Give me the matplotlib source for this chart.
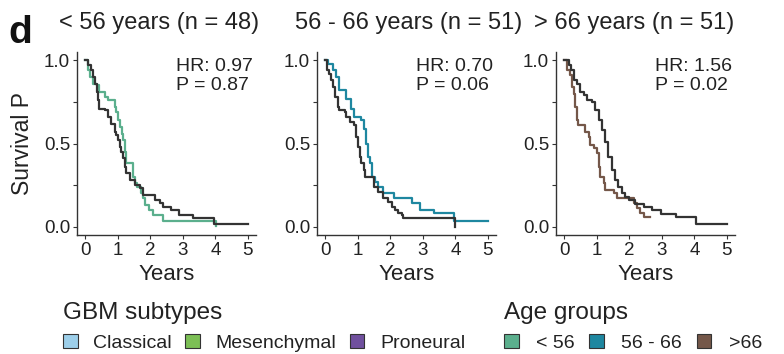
import matplotlib
matplotlib.use("Agg")
import matplotlib.pyplot as plt
from matplotlib.patches import Patch

plt.rcParams['font.family'] = ['Liberation Sans', 'DejaVu Sans']

# ---------------- data ----------------
panel_titles = ["< 56 years (n = 48)", "56 - 66 years (n = 51)", "> 66 years (n = 51)"]
hr_texts = ["HR: 0.97\nP = 0.87", "HR: 0.70\nP = 0.06", "HR: 1.56\nP = 0.02"]
x_ticks = [0, 1, 2, 3, 4, 5]
y_ticks = [0.0, 0.5, 1.0]
y_tick_labels = ["0.0", "0.5", "1.0"]

# panel 1 (< 56)
p1_group_t = [0, 0.08, 0.15, 0.24, 0.35, 0.44, 0.6, 0.7, 0.92, 0.96, 1.0, 1.06, 1.12, 1.16, 1.22, 1.27,
              1.48, 1.52, 1.6, 1.73, 1.78, 1.84, 1.95, 2.09, 2.4, 4.03]
p1_group_s = [1.0, 0.94, 0.9, 0.86, 0.85, 0.81, 0.78, 0.76, 0.72, 0.69, 0.64, 0.6, 0.56, 0.52, 0.45, 0.38,
              0.3, 0.26, 0.24, 0.2, 0.17, 0.13, 0.10, 0.07, 0.034, 0.005]
p1_rest_t = [0, 0.08, 0.19, 0.25, 0.31, 0.35, 0.39, 0.44, 0.6, 0.7, 0.8, 0.91, 0.96, 1.01, 1.06, 1.11, 1.16,
             1.22, 1.27, 1.37, 1.53, 1.68, 1.78, 2.14, 2.3, 2.4, 2.65, 2.87, 3.3, 3.97, 5.0]
p1_rest_s = [1.0, 0.97, 0.94, 0.9, 0.86, 0.81, 0.76, 0.71, 0.70, 0.66, 0.62, 0.57, 0.55, 0.52, 0.48, 0.45, 0.41,
             0.36, 0.32, 0.28, 0.25, 0.23, 0.19, 0.16, 0.14, 0.12, 0.10, 0.07, 0.05, 0.016, 0.016]

# panel 2 (56 - 66)
p2_group_t = [0, 0.08, 0.24, 0.34, 0.44, 0.65, 0.8, 0.89, 1.11, 1.2, 1.27, 1.32, 1.37, 1.44, 1.53, 1.63,
              1.78, 2.11, 2.68, 2.92, 3.36, 3.97, 5.0]
p2_group_s = [1.0, 0.98, 0.94, 0.9, 0.82, 0.77, 0.71, 0.66, 0.64, 0.59, 0.5, 0.42, 0.38, 0.30, 0.27, 0.24,
              0.20, 0.175, 0.145, 0.10, 0.08, 0.035, 0.035]
p2_rest_t = [0, 0.06, 0.12, 0.19, 0.25, 0.31, 0.39, 0.44, 0.6, 0.65, 0.75, 0.89, 0.96, 1.01, 1.06, 1.11,
             1.2, 1.24, 1.5, 1.63, 1.78, 1.94, 2.04, 2.14, 2.24, 2.35, 2.4, 4.0]
p2_rest_s = [1.0, 0.94, 0.92, 0.88, 0.84, 0.78, 0.72, 0.70, 0.69, 0.66, 0.63, 0.61, 0.54, 0.48, 0.42, 0.38,
             0.34, 0.30, 0.24, 0.21, 0.17, 0.15, 0.12, 0.10, 0.085, 0.07, 0.05, 0.0]

# panel 3 (> 66)
p3_group_t = [0, 0.08, 0.18, 0.24, 0.29, 0.34, 0.39, 0.44, 0.63, 0.75, 0.8, 0.93, 1.0, 1.06, 1.1, 1.21,
              1.26, 1.52, 1.63, 2.14, 2.24, 2.34, 2.45, 2.63]
p3_group_s = [1.0, 0.94, 0.91, 0.84, 0.80, 0.72, 0.64, 0.61, 0.57, 0.54, 0.49, 0.47, 0.44, 0.36, 0.30, 0.26,
              0.22, 0.20, 0.17, 0.14, 0.11, 0.08, 0.056, 0.056]
p3_rest_t = [0, 0.15, 0.2, 0.29, 0.39, 0.49, 0.6, 0.7, 0.85, 0.95, 1.06, 1.16, 1.26, 1.36, 1.47, 1.57,
             1.67, 1.77, 1.88, 2.0, 2.19, 2.45, 2.71, 2.97, 3.43, 4.04, 5.0]
p3_rest_s = [1.0, 0.97, 0.94, 0.88, 0.86, 0.81, 0.79, 0.76, 0.75, 0.70, 0.64, 0.58, 0.51, 0.42, 0.34, 0.28,
             0.24, 0.20, 0.18, 0.16, 0.134, 0.12, 0.10, 0.074, 0.06, 0.016, 0.016]

subtype_labels = ["Classical", "Mesenchymal", "Proneural"]
subtype_colors = ["#9DCFEA", "#7CBF55", "#70509E"]
age_labels = ["< 56", "56 - 66", ">66"]
age_colors = ["#5BAF8D", "#1E87A0", "#745749"]
rest_color = "#333333"

panels = [
    (p1_group_t, p1_group_s, p1_rest_t, p1_rest_s),
    (p2_group_t, p2_group_s, p2_rest_t, p2_rest_s),
    (p3_group_t, p3_group_s, p3_rest_t, p3_rest_s),
]

# ---------------- figure ----------------
W, H = 784, 354
fig = plt.figure(figsize=(W / 100, H / 100), dpi=100)
txt = "#222222"
lefts = [77, 317, 556]
ax_w, ax_top, ax_bot = 179, 52, 235
title_cx = [159, 409, 634]

for i, (gt, gs, rt, rs) in enumerate(panels):
    ax = fig.add_axes([lefts[i] / W, 1 - ax_bot / H, ax_w / W, (ax_bot - ax_top) / H])
    ax.step(gt, gs, where='post', color=age_colors[i], lw=1.6, zorder=2)
    ax.step(rt, rs, where='post', color=rest_color, lw=1.6, zorder=3)
    ax.set_xlim(-0.25, 5.25)
    ax.set_ylim(-0.05, 1.05)
    ax.set_xticks(x_ticks)
    ax.set_yticks(y_ticks)
    ax.set_yticklabels(y_tick_labels)
    ax.set_yticks([0.25, 0.75], minor=True)
    for s in ['top', 'right']:
        ax.spines[s].set_visible(False)
    for s in ['left', 'bottom']:
        ax.spines[s].set_color("#333333")
        ax.spines[s].set_linewidth(1.0)
    ax.tick_params(which='both', direction='out', length=3, width=0.8, color="#333333",
                   labelsize=13.5, labelcolor=txt, pad=2)
    ax.set_xlabel("Years", fontsize=16, color=txt, labelpad=4)
    if i == 0:
        ax.set_ylabel("Survival P", fontsize=16.5, color=txt, labelpad=7)
    ax.text(2.8, 1.015, hr_texts[i], fontsize=14, color=txt, ha='left', va='top', linespacing=1.15)
    fig.text(title_cx[i] / W, 1 - 23 / H, panel_titles[i], fontsize=17, color=txt,
             ha='center', va='center')

fig.text(8 / W, 1 - 33 / H, "d", fontsize=28, fontweight='bold', color="#111111", ha='left', va='center')

# legends
sub_handles = [Patch(facecolor=c, edgecolor="#333333", lw=0.8) for c in subtype_colors]
age_handles = [Patch(facecolor=c, edgecolor="#333333", lw=0.8) for c in age_colors]
common = dict(loc='upper left', frameon=False, ncol=3, fontsize=14, title_fontsize=17.5,
              handlelength=0.75, handleheight=0.75,
              borderpad=0, borderaxespad=0, alignment='left', labelcolor=txt)
leg1 = fig.legend(sub_handles, subtype_labels, title="GBM subtypes",
                  bbox_to_anchor=(63 / W, 1 - 302 / H), handletextpad=0.8, columnspacing=0.7,
                  **common)
leg2 = fig.legend(age_handles, age_labels, title="Age groups",
                  bbox_to_anchor=(504 / W, 1 - 302 / H), handletextpad=0.9, columnspacing=0.75,
                  **common)
for lg in (leg1, leg2):
    lg.get_title().set_color(txt)

fig.savefig("out.png", dpi=100)
